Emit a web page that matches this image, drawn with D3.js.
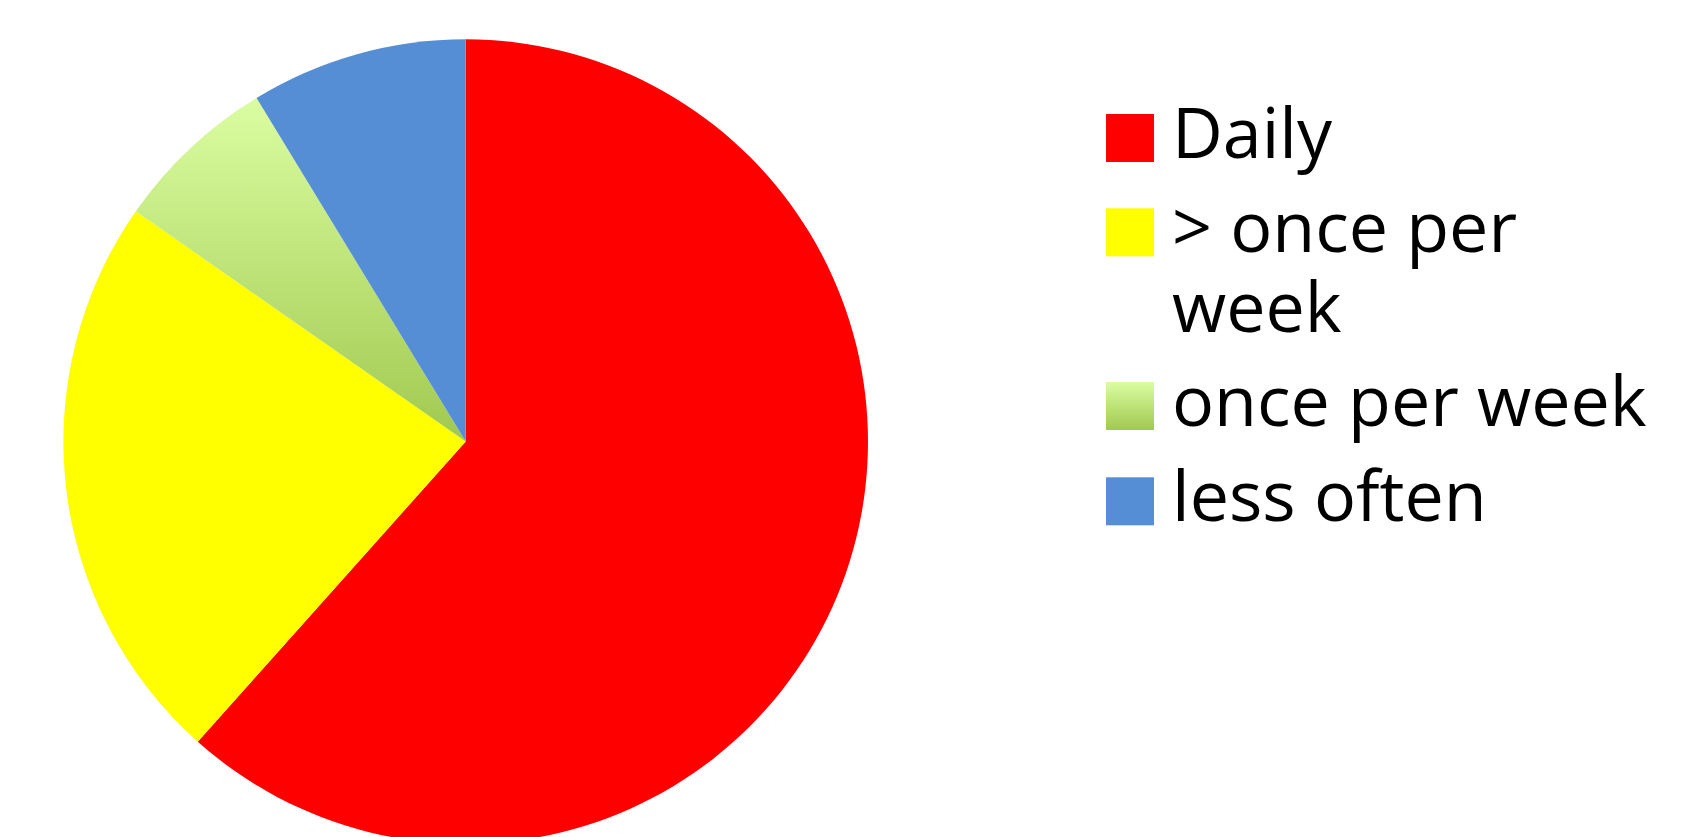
<!DOCTYPE html>
<html>
<head>
<meta charset="utf-8">
<script src="https://cdn.jsdelivr.net/npm/d3@7"></script>
<style>
  html, body { margin: 0; padding: 0; background: #fff; overflow: hidden; }
  svg { display: block; }
</style>
</head>
<body>
<svg id="chart" width="1705" height="837"></svg>
<script>
// ---- data ----
const categories = ["Daily", "> once per week", "once per week", "less often"];
const values = [61.6, 23.1, 6.6, 8.7];
const colors = ["#FF0000", "#FFFF00", "url(#greenGrad)", "#558ED5"];

// ---- layout ----
const W = 1705, H = 837;
const cx = 465.7, cy = 441.6, radius = 402.3;
const svg = d3.select("#chart");

const defs = svg.append("defs");
const grad = defs.append("linearGradient")
  .attr("id", "greenGrad").attr("x1", 0).attr("y1", 0).attr("x2", 0).attr("y2", 1);
grad.append("stop").attr("offset", "0%").attr("stop-color", "#DBFDA2");
grad.append("stop").attr("offset", "100%").attr("stop-color", "#A0C94F");

const pie = d3.pie().sort(null).value(d => d.v).startAngle(0).endAngle(2 * Math.PI);
const arc = d3.arc().innerRadius(0).outerRadius(radius);
const data = categories.map((c, i) => ({ c, v: values[i], col: colors[i] }));

svg.append("g").attr("transform", `translate(${cx},${cy})`)
  .selectAll("path").data(pie(data)).join("path")
  .attr("d", arc)
  .attr("fill", d => d.data.col);

// ---- legend ----
const fontSize = 70;
const lineH = 79.7;
const legendX = 1106, textX = 1172, maxTextW = 490;
const rowTops = [114, 208.3, 382, 477.3];
const swW = 48, swH = 48;

const lg = svg.append("g")
  .attr("font-family", "'Open Sans', Lato, sans-serif")
  .attr("font-size", fontSize)
  .attr("fill", "#000");

data.forEach((d, i) => {
  const y0 = rowTops[i];
  lg.append("rect").attr("x", legendX).attr("y", y0).attr("width", swW).attr("height", swH)
    .attr("fill", d.col);
  const t = lg.append("text").attr("x", textX).attr("y", y0 + swH / 2 + 19.8);
  const words = d.c.split(" ");
  let line = [];
  let tspan = t.append("tspan").attr("x", textX).attr("dy", 0);
  words.forEach(w => {
    line.push(w);
    tspan.text(line.join(" "));
    if (tspan.node().getComputedTextLength() > maxTextW && line.length > 1) {
      line.pop();
      tspan.text(line.join(" "));
      line = [w];
      tspan = t.append("tspan").attr("x", textX).attr("dy", lineH).text(w);
    }
  });
});
</script>
</body>
</html>
